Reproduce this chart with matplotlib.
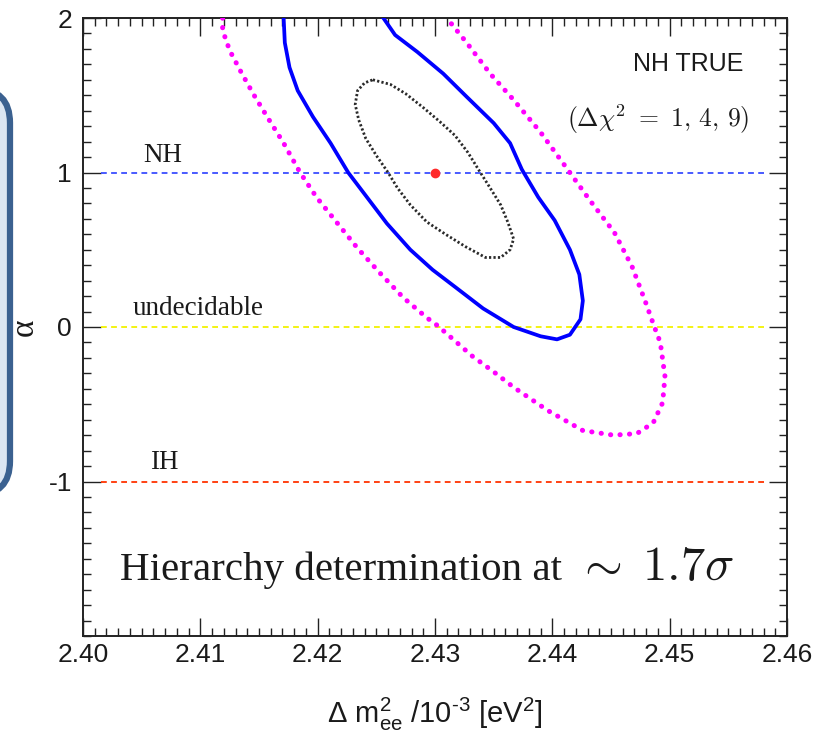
import matplotlib
matplotlib.use('Agg')
import matplotlib.pyplot as plt
from matplotlib.patches import FancyBboxPatch
from matplotlib.ticker import MultipleLocator, FormatStrFormatter

plt.rcParams['font.family'] = ['Liberation Sans', 'DejaVu Sans']
plt.rcParams['axes.unicode_minus'] = False
plt.rcParams['mathtext.fontset'] = 'custom'
plt.rcParams['mathtext.rm'] = 'Liberation Sans'
plt.rcParams['mathtext.it'] = 'Liberation Sans:italic'
plt.rcParams['mathtext.bf'] = 'Liberation Sans:bold'

# ---------------- data ----------------
# Delta chi^2 = 1 contour (black dotted)
c1_x = [2.4247, 2.4262, 2.4275, 2.4290, 2.4304, 2.4317, 2.4328, 2.4337, 2.4347, 2.4356,
        2.4362, 2.4367, 2.4364, 2.4356, 2.4343, 2.4326, 2.4309, 2.4293, 2.4279, 2.4268,
        2.4260, 2.4250, 2.4241, 2.4235, 2.4232, 2.4234, 2.4240, 2.4247]
c1_y = [1.60, 1.57, 1.51, 1.42, 1.33, 1.24, 1.13, 1.02, 0.90, 0.79,
        0.68, 0.57, 0.50, 0.45, 0.45, 0.52, 0.60, 0.68, 0.79, 0.90,
        1.00, 1.11, 1.22, 1.34, 1.44, 1.53, 1.58, 1.60]

# Delta chi^2 = 4 contour (blue solid)
c4_x = [2.4171, 2.4172, 2.4176, 2.4183, 2.4196, 2.4211, 2.4226, 2.4242, 2.4259, 2.4279,
        2.4298, 2.4317, 2.4341, 2.4367, 2.4390, 2.4404, 2.4415, 2.4424, 2.4426, 2.4423,
        2.4415, 2.4402, 2.4388, 2.4374, 2.4364, 2.4350, 2.4327, 2.4307, 2.4285, 2.4266,
        2.4256]
c4_y = [2.00, 1.84, 1.68, 1.53, 1.36, 1.19, 1.00, 0.84, 0.67, 0.50,
        0.37, 0.26, 0.12, 0.00, -0.06, -0.08, -0.05, 0.05, 0.17, 0.34,
        0.50, 0.69, 0.84, 1.02, 1.19, 1.32, 1.49, 1.64, 1.78, 1.89,
        2.00]

# Delta chi^2 = 9 contour (magenta dotted)
c9_x = [2.4119, 2.4119, 2.4125, 2.4134, 2.4145, 2.4157, 2.4171, 2.4185, 2.4199, 2.4217,
        2.4234, 2.4253, 2.4273, 2.4293, 2.4302, 2.4317, 2.4332, 2.4350, 2.4367, 2.4396,
        2.4426, 2.4452, 2.4472, 2.4486, 2.4494, 2.4496, 2.4492, 2.4487, 2.4479, 2.4468,
        2.4453, 2.4432, 2.4413, 2.4390, 2.4367, 2.4347, 2.4327, 2.4310]
c9_y = [2.00, 1.92, 1.79, 1.66, 1.51, 1.36, 1.19, 1.00, 0.84, 0.67,
        0.51, 0.35, 0.19, 0.06, 0.01, -0.09, -0.19, -0.29, -0.39, -0.54,
        -0.67, -0.70, -0.69, -0.62, -0.49, -0.32, -0.10, 0.00, 0.17, 0.39,
        0.61, 0.82, 1.02, 1.26, 1.47, 1.64, 1.84, 2.00]

# hierarchy reference lines
level_names = ['NH', 'undecidable', 'IH']
level_alpha = [1.0, 0.0, -1.0]
level_colors = ['#3a4dff', '#f2f200', '#ff3300']
line_x = [2.4015, 2.4584]
label_x = [2.4068, 2.4098, 2.4069]
label_y = [1.068, 0.078, -0.919]

# best fit point
bf_x = [2.430]
bf_y = [1.0]

x_ticks = [2.40, 2.41, 2.42, 2.43, 2.44, 2.45, 2.46]
y_ticks = [-1, 0, 1, 2]

# ---------------- figure ----------------
W, H = 815, 734
fig = plt.figure(figsize=(W / 100, H / 100), dpi=100)

# slide side box (partially visible on the left)
box = FancyBboxPatch((-100, H - 495), 110, 495 - 89,
                     boxstyle="round,pad=0,rounding_size=34",
                     transform=None, facecolor='#dce6f2', edgecolor='#3b6190',
                     linewidth=4.5, clip_on=False)
fig.patches.append(box)

ax = fig.add_axes([83 / W, 1 - 636 / H, (787 - 83) / W, (636 - 18) / H])
ax.set_xlim(2.40, 2.46)
ax.set_ylim(-2, 2)

for name, a, c, lx, ly in zip(level_names, level_alpha, level_colors, label_x, label_y):
    ax.plot(line_x, [a, a], color=c, lw=1.3, ls=(0, (3.2, 2.4)), zorder=2)
    ax.text(lx, ly, name, ha='center', va='baseline', fontsize=19.5,
            family=['Liberation Serif', 'DejaVu Serif'], color='#1a1a1a')

ax.plot(c9_x, c9_y, color='#ff00ff', lw=3.6, ls=(0, (0.05, 1.85)),
        dash_capstyle='round', solid_joinstyle='round', zorder=3)
ax.plot(c4_x, c4_y, color='#0000ff', lw=2.7, solid_joinstyle='round', zorder=4)
ax.plot(c1_x, c1_y, color='#2a2a2a', lw=2.0, ls=(0, (0.8, 0.8)), zorder=4)
ax.plot(bf_x, bf_y, 'o', color='#ff2a2a', ms=6, zorder=5)

ax.text(2.4563, 1.657, 'NH TRUE', ha='right', va='baseline', fontsize=18, color='#1a1a1a')
ax.text(2.4568, 1.294, r'$(\Delta\chi^2\ =\ 1,\,4,\,9)$', ha='right', va='baseline',
        fontsize=18.5, math_fontfamily='cm', color='#1a1a1a')
ax.text(2.40315, -1.638, 'Hierarchy determination at', ha='left', va='baseline',
        fontsize=29.5, family=['Liberation Serif', 'DejaVu Serif'], color='#1a1a1a')
ax.text(2.4420, -1.638, r'$\sim\;1.7\sigma$', ha='left', va='baseline',
        fontsize=35, math_fontfamily='cm', color='#1a1a1a')

ax.set_xticks(x_ticks)
ax.set_yticks(y_ticks)
ax.xaxis.set_major_formatter(FormatStrFormatter('%.2f'))
ax.yaxis.set_major_formatter(FormatStrFormatter('%d'))
ax.xaxis.set_minor_locator(MultipleLocator(0.001))
ax.yaxis.set_minor_locator(MultipleLocator(0.1))
ax.tick_params(which='both', direction='in', top=True, right=True, width=1.0, color='#222222')
ax.tick_params(which='major', length=13, labelsize=19, labelcolor='#1a1a1a')
ax.tick_params(which='minor', length=6)
ax.tick_params(axis='x', which='major', pad=5)
ax.tick_params(axis='y', which='major', pad=8)
for s in ax.spines.values():
    s.set_linewidth(1.4)
    s.set_color('#222222')

fig.text(435 / W, 1 - 723 / H, r'$\Delta$ m$^{2}_{\rm ee}$ /10$^{\text{-}3}$ [eV$^{2}$]',
         ha='center', va='baseline', fontsize=21, color='#1a1a1a')
fig.text(25 / W, 1 - 327 / H, u'\u03b1', rotation=90, ha='center', va='center',
         fontsize=24, family=['Liberation Serif', 'DejaVu Serif'], color='#1a1a1a')

fig.savefig('out.png', dpi=100)
